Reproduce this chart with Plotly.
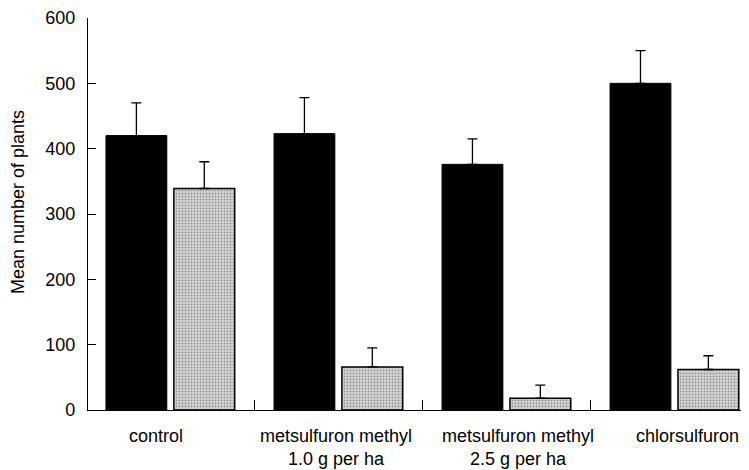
import plotly.graph_objects as go

categories = ["control", "metsulfuron methyl<br>1.0 g per ha",
              "metsulfuron methyl<br>2.5 g per ha", "chlorsulfuron"]
black_vals = [420, 423, 376, 500]
black_err = [50, 55, 39, 50]
grey_vals = [339, 66, 18, 62]
grey_err = [41, 29, 20, 21]
y_ticks = [0, 100, 200, 300, 400, 500, 600]
y_title = "Mean number of plants"

xpos = list(range(len(categories)))
label_shift = [-14, -2, 12, 13]
font = "Liberation Sans, Arial, Helvetica, sans-serif"

fig = go.Figure()
fig.add_trace(go.Bar(
    x=xpos, y=black_vals, offset=-0.383, width=0.362,
    marker=dict(color="black", line=dict(color="black", width=1)),
    error_y=dict(type="data", array=black_err, symmetric=False, arrayminus=[0]*4,
                 color="black", thickness=1.3, width=5),
    showlegend=False,
))
fig.add_trace(go.Bar(
    x=xpos, y=grey_vals, offset=0.021, width=0.362,
    marker=dict(color="#cfcfcf", line=dict(color="black", width=1.5),
                pattern=dict(shape=".", size=3, solidity=0.35,
                             fgcolor="#555555", bgcolor="#d6d6d6", fillmode="overlay")),
    error_y=dict(type="data", array=grey_err, symmetric=False, arrayminus=[0]*4,
                 color="black", thickness=1.3, width=5),
    showlegend=False,
))

for i, cat in enumerate(categories):
    fig.add_annotation(x=xpos[i], xref="x", y=0, yref="paper", yanchor="top",
                       xanchor="center", yshift=-14, xshift=label_shift[i],
                       text=cat, showarrow=False, align="center",
                       font=dict(size=18, family=font, color="black"))

fig.add_annotation(x=0, xref="paper", y=0.5, yref="paper", xshift=-70, yshift=12,
                   xanchor="center", yanchor="middle", textangle=-90,
                   text=y_title, showarrow=False,
                   font=dict(size=18, family=font, color="black"))

fig.update_layout(
    width=741, height=462,
    margin=dict(l=80, r=4, t=10, b=60),
    paper_bgcolor="white", plot_bgcolor="white",
    font=dict(family=font, size=18, color="black"),
    barmode="overlay",
    xaxis=dict(
        range=[-0.49, 3.42], tickvals=xpos, showticklabels=False,
        ticks="", showline=True, linecolor="black", linewidth=1.3,
        showgrid=False, zeroline=False, automargin=False,
        minor=dict(tick0=0.5, dtick=1, ticks="inside", ticklen=10,
                   tickcolor="black", tickwidth=1.3, showgrid=False),
    ),
    yaxis=dict(
        range=[0, 600], tickvals=y_ticks, ticks="inside", ticklen=8,
        tickcolor="black", tickwidth=1.3, showline=True, linecolor="black",
        linewidth=1.3, showgrid=False, zeroline=False, automargin=False,
        tickfont=dict(size=18), ticklabelstandoff=8,
    ),
)

fig.write_html("out.html")
